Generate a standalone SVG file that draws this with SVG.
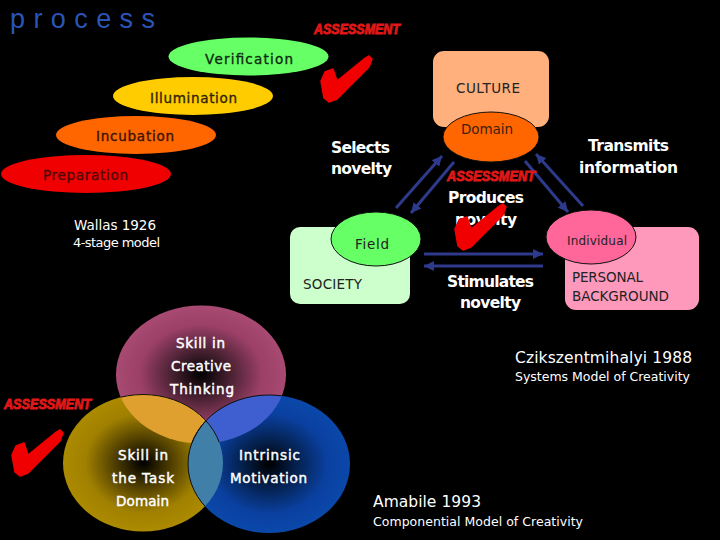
<svg xmlns="http://www.w3.org/2000/svg" width="720" height="540" viewBox="0 0 720 540">
<style>
text{font-family:"DejaVu Sans","Liberation Sans",sans-serif;fill:#fff;white-space:pre}
.b{font-weight:bold;font-size:15.5px}
.d{font-size:13.5px;stroke-width:.35px}
.r{font-size:13.5px}
.n{font-size:13.5px;fill:#222}
.m{font-size:13.5px;stroke:#fff;stroke-width:.45px}
.a{font-family:"Liberation Sans",sans-serif;font-weight:bold;font-style:italic;font-size:14px;fill:#e01818;stroke:#e01818;stroke-width:.9px}
.ln{stroke:#2e3a8c;stroke-width:3;fill:none;marker-end:url(#ah)}
.ol{stroke:#101010;stroke-width:1}
.arc{fill:none;stroke:#101010;stroke-width:1}
.chk{fill:#f00000;stroke:#f00000;stroke-width:1.5;stroke-linejoin:round}
</style>
<defs>
<marker id="ah" markerUnits="userSpaceOnUse" markerWidth="12" markerHeight="10" refX="10" refY="5" orient="auto"><path d="M0,0L10,5L0,10Z" fill="#2e3a8c"/></marker>
<radialGradient id="gTop"><stop offset="0" stop-color="#000"/><stop offset=".33" stop-color="#45202f"/><stop offset=".72" stop-color="#9c4068"/><stop offset="1" stop-color="#a84a72"/></radialGradient>
<radialGradient id="gLeft"><stop offset="0" stop-color="#000"/><stop offset=".33" stop-color="#4a3a00"/><stop offset=".72" stop-color="#a08000"/><stop offset="1" stop-color="#ac8a00"/></radialGradient>
<radialGradient id="gRight"><stop offset="0" stop-color="#000"/><stop offset=".33" stop-color="#04204c"/><stop offset=".72" stop-color="#0a40a0"/><stop offset="1" stop-color="#0a48aa"/></radialGradient>
<clipPath id="cTop"><ellipse cx="201" cy="374.5" rx="85" ry="69"/></clipPath>
<clipPath id="cLeft"><ellipse cx="143" cy="463" rx="80" ry="68.5"/></clipPath>
<path id="check" d="M49,1L52,4L49,12L17,44L9,47L4,43L1,26L5,17L13,14L17,26L44,4Z"/>
</defs>
<rect width="720" height="540" fill="#000"/>
<text id="title" x="10" y="28" textLength="145" style="fill:#2a55b8;font-size:27px;font-family:'Liberation Sans',sans-serif">process</text>

<g id="wallas">
<g id="verification"><ellipse cx="248.5" cy="56.5" rx="80" ry="19" fill="#66ff66"/><text class="d" x="205" y="64" textLength="88" style="fill:#102a10;stroke:#102a10">Verification</text></g>
<g id="illumination"><ellipse cx="193" cy="96" rx="80" ry="19" fill="#ffcc00"/><text class="d" x="150" y="103" textLength="87" style="fill:#302400;stroke:#302400">Illumination</text></g>
<g id="incubation"><ellipse cx="136" cy="135" rx="80" ry="19" fill="#ff6600"/><text class="d" x="96" y="141" textLength="78" style="fill:#3a1400;stroke:#3a1400">Incubation</text></g>
<g id="preparation"><ellipse cx="86" cy="174" rx="85" ry="19" fill="#f00000"/><text class="d" x="43" y="180" textLength="85" style="fill:#500808;stroke:#500808">Preparation</text></g>
<text class="r" x="74" y="230" textLength="82">Wallas 1926</text>
<text class="r" x="73" y="247" textLength="87" style="font-size:13px">4-stage model</text>
</g>

<g id="connectors">
<path class="ln" d="M396,208L442,156"/>
<path class="ln" d="M454,162L411,213"/>
<path class="ln" d="M525,161L568,212"/>
<path class="ln" d="M583,206L536,154"/>
<path class="ln" d="M424,254L543,254"/>
<path class="ln" d="M543,266L424,266"/>
</g>

<g id="culture"><rect x="433" y="51" width="116" height="76" rx="11" fill="#ffb07c"/><text class="n" x="456" y="93" textLength="64">CULTURE</text></g>
<g id="domain"><ellipse class="ol" cx="491" cy="137" rx="48" ry="25" fill="#ff6600"/><text class="n" x="461" y="134" textLength="52" style="fill:#402010">Domain</text></g>
<g id="society"><rect x="290" y="227" width="120" height="77" rx="10" fill="#ccffcc"/><text class="n" x="303" y="289" textLength="59">SOCIETY</text></g>
<g id="field"><ellipse class="ol" cx="376" cy="239" rx="45" ry="27" fill="#66ff66"/><text class="n" x="355" y="249" textLength="34">Field</text></g>
<g id="personal"><rect x="565" y="227" width="134" height="83" rx="11" fill="#ff99bb"/><text class="n" x="572" y="282" textLength="71">PERSONAL</text><text class="n" x="572" y="301" textLength="97">BACKGROUND</text></g>
<g id="individual"><ellipse class="ol" cx="591" cy="237" rx="45" ry="27" fill="#ff6699"/><text class="n" x="567" y="245" textLength="60" style="font-size:12px">Individual</text></g>

<g id="csik-labels">
<text class="b" x="331" y="153" textLength="59">Selects</text>
<text class="b" x="331" y="174" textLength="61">novelty</text>
<text class="b" x="588" y="151" textLength="81">Transmits</text>
<text class="b" x="579" y="173" textLength="99">information</text>
<text class="b" x="448" y="203" textLength="76">Produces</text>
<text class="b" x="455" y="225" textLength="62">novelty</text>
<text class="b" x="447" y="287" textLength="87">Stimulates</text>
<text class="b" x="460" y="308" textLength="61">novelty</text>
</g>

<g id="venn">
<g id="v-top"><ellipse cx="201" cy="374.5" rx="85" ry="69" fill="url(#gTop)"/></g>
<g id="v-left"><ellipse cx="143" cy="463" rx="80" ry="68.5" fill="url(#gLeft)"/></g>
<g id="v-right"><ellipse cx="269" cy="464" rx="81" ry="69" fill="url(#gRight)"/></g>
<ellipse cx="143" cy="463" rx="80" ry="68.5" fill="#e0a030" clip-path="url(#cTop)"/>
<ellipse cx="269" cy="464" rx="81" ry="69" fill="#3f5fd0" clip-path="url(#cTop)"/>
<ellipse cx="269" cy="464" rx="81" ry="69" fill="#4080a8" clip-path="url(#cLeft)"/>
<ellipse class="arc" cx="143" cy="463" rx="80" ry="68.5" clip-path="url(#cTop)"/>
<ellipse class="arc" cx="269" cy="464" rx="81" ry="69" clip-path="url(#cTop)"/>
<ellipse class="arc" cx="269" cy="464" rx="81" ry="69" clip-path="url(#cLeft)"/>
<text class="m" x="176" y="348" textLength="49">Skill in</text>
<text class="m" x="171" y="371" textLength="60">Creative</text>
<text class="m" x="170" y="394" textLength="64">Thinking</text>
<text class="m" x="118" y="460" textLength="50">Skill in</text>
<text class="m" x="112" y="483" textLength="62">the Task</text>
<text class="m" x="116" y="506" textLength="53">Domain</text>
<text class="m" x="239" y="460" textLength="61">Intrinsic</text>
<text class="m" x="230" y="483" textLength="77">Motivation</text>
</g>

<text x="515" y="363" textLength="177" style="font-size:15.5px">Czikszentmihalyi 1988</text>
<text x="515" y="381" textLength="175" style="font-size:12.5px">Systems Model of Creativity</text>
<text x="373" y="507" textLength="108" style="font-size:15.5px">Amabile 1993</text>
<text x="373" y="526" textLength="210" style="font-size:12.5px">Componential Model of Creativity</text>

<g id="assessment-1"><text class="a" x="314" y="34" textLength="86" lengthAdjust="spacingAndGlyphs">ASSESSMENT</text><use href="#check" class="chk" x="320" y="55"/></g>
<g id="assessment-2"><text class="a" x="447" y="181" textLength="88" lengthAdjust="spacingAndGlyphs">ASSESSMENT</text><use href="#check" class="chk" x="454" y="203"/></g>
<g id="assessment-3"><text class="a" x="4" y="409" textLength="87" lengthAdjust="spacingAndGlyphs">ASSESSMENT</text><use href="#check" class="chk" x="11" y="429"/></g>
</svg>
